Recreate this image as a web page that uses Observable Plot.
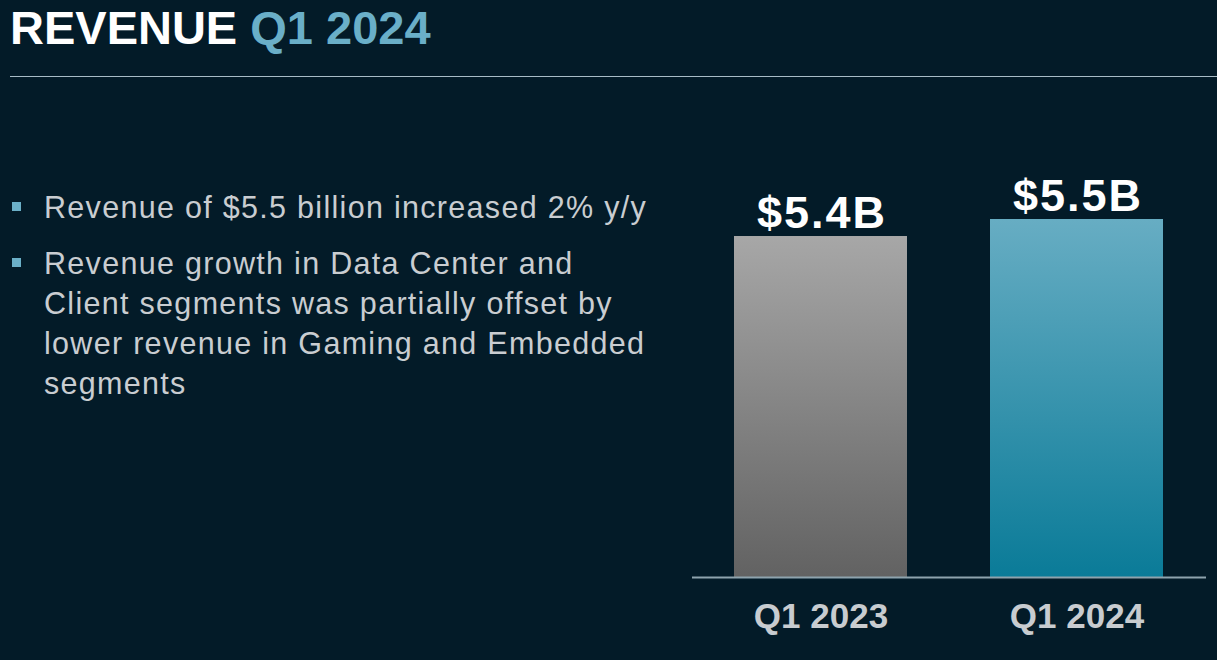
<!DOCTYPE html>
<html>
<head>
<meta charset="utf-8">
<script src="https://cdn.jsdelivr.net/npm/d3@7"></script>
<script src="https://cdn.jsdelivr.net/npm/@observablehq/plot@0.6"></script>
<style>
  html, body { margin: 0; padding: 0; }
  body { width: 1217px; height: 660px; background: #031b28; position: relative; overflow: hidden; font-family: "Liberation Sans", Arial, sans-serif; }
  #title { position: absolute; left: 10px; top: 4px; font-size: 47px; line-height: 47px; font-weight: bold; color: #ffffff; white-space: nowrap; }
  #title span { color: #6aafc8; }
  #rule { position: absolute; left: 10px; top: 76px; width: 1207px; height: 1px; background: #a8bcc6; }
  .bullet { position: absolute; left: 44px; font-size: 30.5px; line-height: 40px; color: #c9cdd1; letter-spacing: 1.3px; white-space: nowrap; }
  .bullet::before { content: ""; position: absolute; left: -32px; top: 15px; width: 9px; height: 9px; background: #6bb0c8; }
  #chart { position: absolute; left: 692px; top: 150px; }
  #chart svg { overflow: visible; }
</style>
</head>
<body>
<div id="title">REVENUE <span>Q1 2024</span></div>
<div id="rule"></div>
<div id="bullets"></div>
<div id="chart"></div>
<script>
const categories = ["Q1 2023", "Q1 2024"];
const revenue = [5.4, 5.5];
const valueLabels = ["$5.4B", "$5.5B"];
const bulletLines = [
  ["Revenue of $5.5 billion increased 2% y/y"],
  ["Revenue growth in Data Center and", "Client segments was partially offset by", "lower revenue in Gaming and Embedded", "segments"]
];
const yDomain = [3.394, 5.906];

const bulletTops = [187, 243];
const bc = document.getElementById("bullets");
bulletLines.forEach((lines, i) => {
  const d = document.createElement("div");
  d.className = "bullet";
  d.style.top = bulletTops[i] + "px";
  lines.forEach((l, j) => {
    if (j) d.appendChild(document.createElement("br"));
    d.appendChild(document.createTextNode(l));
  });
  bc.appendChild(d);
});

const data = categories.map((c, i) => ({category: c, value: revenue[i], label: valueLabels[i]}));

const chart = Plot.plot({
  width: 525,
  height: 500,
  marginLeft: 0,
  marginRight: 11,
  marginTop: 0,
  marginBottom: 73,
  style: {background: "transparent", fontFamily: "'Liberation Sans', Arial, sans-serif", overflow: "visible"},
  x: {domain: categories, paddingInner: 0.3236, paddingOuter: 0.1637, label: null},
  y: {domain: yDomain, clamp: true, axis: null},
  color: {domain: categories, range: ["url(#gradGray)", "url(#gradBlue)"]},
  marks: [
    Plot.barY(data, {x: "category", y: "value", fill: "category"}),
    Plot.ruleY([yDomain[0]], {stroke: "#8ea3ad", strokeWidth: 2}),
    Plot.text(data, {x: "category", y: "value", text: "label", lineAnchor: "bottom", dy: -9, dx: 1, fontSize: 45, fontWeight: "bold", fill: "#ffffff", className: "vlabel"}),
    Plot.axisX({tickSize: 0, tickPadding: 26, fontSize: 35, fontWeight: "bold", color: "#c8ccd0", label: null})
  ]
});

const defs = d3.select(chart).insert("defs", ":first-child");
const grads = [
  {id: "gradGray", top: "#a7a7a7", bottom: "#626262"},
  {id: "gradBlue", top: "#67adc3", bottom: "#0a7b98"}
];
grads.forEach(g => {
  const lg = defs.append("linearGradient").attr("id", g.id).attr("x1", 0).attr("y1", 0).attr("x2", 0).attr("y2", 1);
  lg.append("stop").attr("offset", "0%").attr("stop-color", g.top);
  lg.append("stop").attr("offset", "100%").attr("stop-color", g.bottom);
});
d3.select(chart).selectAll(".vlabel text").style("letter-spacing", "2px");

document.getElementById("chart").appendChild(chart);
</script>
</body>
</html>
